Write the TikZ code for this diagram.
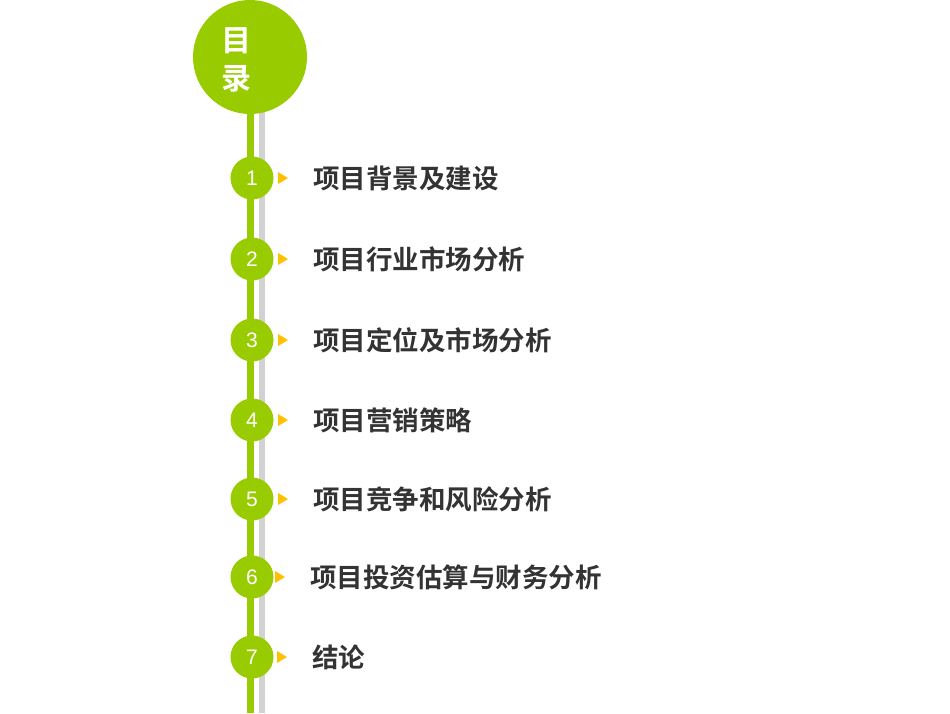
\documentclass[tikz,border=0pt]{standalone}
\usepackage{fontspec}
\setmainfont{Liberation Sans}
\newfontfamily\cjk{Noto Sans CJK SC}[BoldFont={Noto Sans CJK SC Bold}]
\definecolor{gr}{HTML}{99CC00}
\definecolor{tx}{HTML}{333333}
\definecolor{tri}{HTML}{FFC000}
\begin{document}
\begin{tikzpicture}[x=1pt,y=-1pt,
  dot/.style={circle,fill=gr,minimum size=43pt,inner sep=0pt,text=white,font=\fontsize{21}{21}\selectfont},
  lbl/.style={anchor=west,text=tx,font=\cjk\bfseries\fontsize{26.5}{26.5}\selectfont,inner sep=0pt},
  tip/.style={fill=tri}]
\useasboundingbox (0,0) rectangle (950,713);
\fill[gray!35] (259,110) rectangle (265,713);
\fill[gr] (247,60) rectangle (254,713);
\node[circle,fill=gr,minimum size=114pt,inner sep=0pt] (top) at (250,57) {};
\node[text=white,align=center,font=\cjk\bfseries\fontsize{30}{38}\selectfont,inner sep=0pt] (tt) at (236,60) {目\\录};
\foreach \n/\y/\t/\dx in {1/178/项目背景及建设/0,2/259/项目行业市场分析/0,3/340/项目定位及市场分析/0,4/420/项目营销策略/0,5/499/项目竞争和风险分析/0,6/577/项目投资估算与财务分析/-3,7/657/结论/-1}{
  \node[dot] (c\n) at (252,\y) {\n};
  \coordinate (t\n) at (278+\dx,\y);
  \fill[tip] (t\n) ++(0,-6) -- ++(10,6) -- ++(-10,6) -- cycle;
  \node[lbl] (l\n) at (313+\dx,\y) {\t};
}
\end{tikzpicture}
\end{document}
